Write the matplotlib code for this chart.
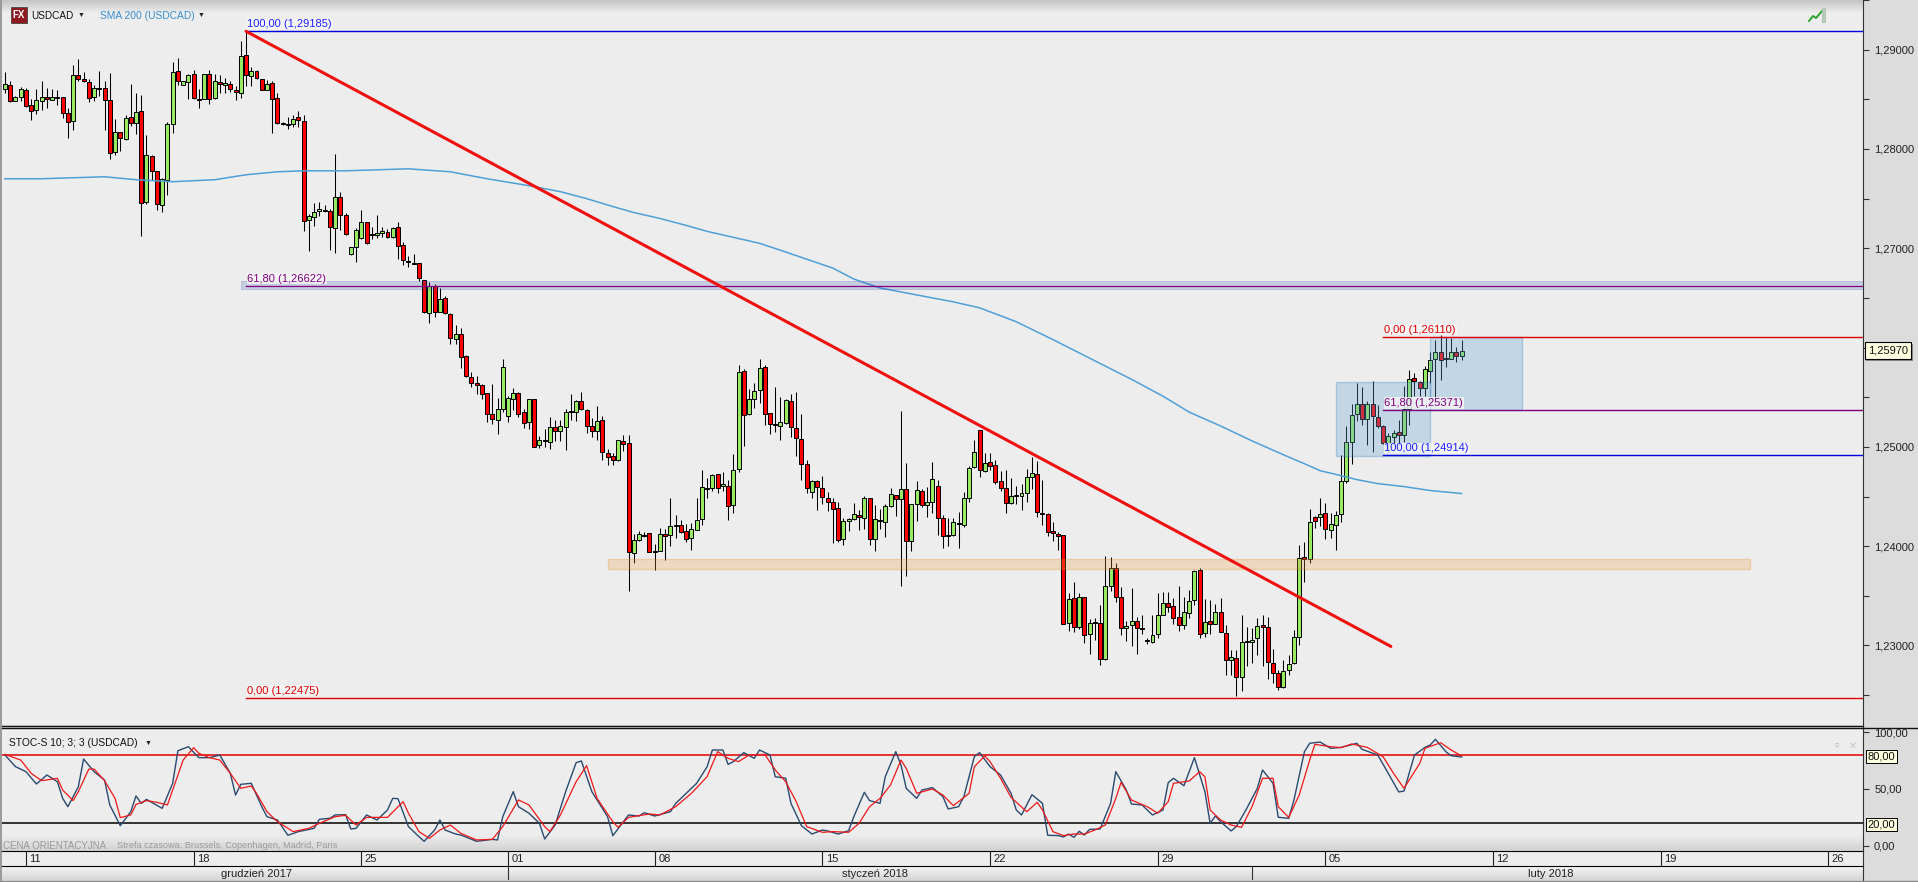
import numpy as np
import matplotlib
matplotlib.use("Agg")
import matplotlib.pyplot as plt
from matplotlib.patheffects import withSimplePatchShadow

plt.rcParams['font.family'] = ['Liberation Sans', 'DejaVu Sans']
plt.rcParams['font.size'] = 8

W, H = 1918, 882

# candles, in pips (price * 10000), 4h bars
highs = [
12877,12868,12853,12862,12861,12850,12860,12868,12861,12860,
12859,12852,12841,12885,12891,12877,12870,12864,12878,12868,
12876,12830,12817,12834,12865,12856,12854,12814,12794,12778,
12771,12827,12888,12892,12868,12875,12880,12860,12875,12880,
12875,12874,12871,12868,12863,12909,12918,12883,12880,12870,
12869,12868,12856,12827,12832,12834,12838,12834,12734,12746,
12747,12744,12740,12795,12757,12735,12701,12720,12739,12726,
12721,12733,12721,12719,12721,12726,12706,12692,12694,12685,
12668,12666,12664,12660,12652,12635,12623,12620,12592,12575,
12571,12563,12554,12563,12549,12588,12551,12559,12555,12538,
12548,12548,12511,12518,12530,12527,12527,12538,12553,12547,
12555,12538,12529,12541,12531,12498,12494,12507,12512,12512,
12412,12415,12414,12413,12402,12418,12417,12449,12431,12426,
12422,12423,12448,12477,12469,12473,12473,12475,12467,12493,
12582,12578,12558,12564,12588,12582,12534,12560,12550,12548,
12553,12555,12533,12487,12467,12467,12471,12455,12449,12444,
12428,12428,12443,12436,12451,12449,12441,12437,12442,12459,
12452,12536,12484,12442,12466,12458,12460,12485,12467,12431,
12428,12428,12434,12455,12481,12507,12517,12494,12494,12487,
12476,12477,12469,12461,12463,12478,12490,12486,12467,12433,
12424,12414,12411,12353,12364,12353,12349,12327,12328,12341,
12390,12389,12383,12359,12325,12358,12329,12331,12308,12331,
12353,12354,12354,12348,12360,12349,12356,12376,12378,12347,
12346,12342,12348,12321,12295,12295,12331,12319,12318,12328,
12331,12329,12296,12275,12285,12290,12316,12401,12404,12437,
12430,12449,12443,12433,12435,12492,12521,12543,12564,12560,
12546,12566,12542,12522,12514,12517,12527,12561,12577,12574,
12566,12581,12596,12608,12613,12611,12610,12601,12608]
body_tops = [
12865,12864,12852,12860,12859,12844,12849,12852,12852,12852,
12852,12852,12836,12874,12874,12870,12867,12861,12861,12861,
12849,12817,12817,12831,12832,12837,12838,12794,12793,12778,
12770,12825,12877,12878,12868,12874,12875,12850,12875,12875,
12868,12867,12866,12865,12859,12894,12895,12878,12879,12870,
12865,12866,12851,12826,12825,12830,12832,12828,12732,12737,
12740,12739,12738,12752,12752,12733,12701,12718,12726,12726,
12714,12715,12717,12716,12720,12721,12703,12687,12685,12685,
12668,12662,12662,12649,12650,12634,12614,12614,12591,12570,
12564,12562,12554,12533,12538,12580,12549,12554,12554,12535,
12548,12548,12507,12507,12520,12520,12521,12535,12536,12546,
12546,12537,12521,12526,12527,12494,12491,12507,12506,12504,
12406,12412,12411,12413,12395,12412,12412,12420,12421,12421,
12415,12417,12426,12460,12459,12472,12473,12463,12461,12477,
12575,12576,12548,12556,12579,12580,12534,12523,12525,12547,
12546,12519,12508,12483,12466,12466,12459,12449,12444,12438,
12425,12427,12432,12431,12448,12448,12427,12426,12440,12453,
12452,12458,12458,12442,12457,12456,12444,12468,12461,12428,
12411,12424,12423,12449,12479,12495,12517,12484,12485,12482,
12466,12459,12451,12452,12454,12470,12474,12473,12433,12432,
12415,12412,12411,12347,12348,12349,12349,12323,12324,12323,
12360,12378,12378,12349,12320,12325,12325,12318,12305,12311,
12331,12343,12343,12340,12329,12334,12345,12375,12376,12324,
12325,12334,12334,12313,12288,12287,12303,12304,12306,12320,
12321,12319,12282,12272,12274,12281,12309,12388,12389,12424,
12429,12432,12433,12422,12431,12466,12505,12532,12543,12543,
12543,12543,12530,12521,12511,12514,12515,12538,12568,12569,
12565,12578,12587,12596,12596,12589,12596,12596,12597]
body_bottoms = [
12860,12848,12848,12852,12843,12838,12839,12848,12850,12849,
12851,12836,12827,12828,12870,12868,12851,12852,12860,12849,
12796,12797,12811,12810,12826,12826,12746,12747,12778,12745,
12744,12769,12825,12868,12864,12867,12851,12849,12850,12850,
12851,12865,12864,12860,12857,12856,12874,12873,12871,12859,
12859,12850,12826,12825,12824,12825,12829,12727,12728,12731,
12738,12738,12721,12720,12733,12714,12694,12701,12710,12705,
12713,12713,12715,12711,12711,12702,12688,12686,12684,12670,
12636,12635,12636,12636,12635,12610,12609,12590,12571,12564,
12562,12553,12533,12528,12527,12538,12531,12548,12533,12524,
12525,12500,12502,12506,12505,12516,12516,12520,12535,12535,
12538,12521,12516,12516,12495,12490,12487,12487,12503,12394,
12393,12406,12410,12394,12394,12395,12410,12411,12420,12414,
12407,12408,12416,12427,12458,12459,12459,12461,12440,12441,
12478,12532,12533,12548,12557,12533,12523,12522,12521,12524,
12520,12509,12483,12459,12455,12460,12450,12444,12437,12406,
12407,12425,12427,12429,12428,12407,12407,12425,12424,12440,
12447,12447,12405,12405,12442,12441,12441,12444,12428,12410,
12410,12411,12422,12421,12449,12480,12477,12476,12481,12465,
12459,12443,12443,12451,12451,12454,12470,12434,12432,12414,
12413,12410,12322,12323,12319,12319,12311,12312,12323,12286,
12286,12360,12349,12318,12318,12321,12318,12317,12304,12303,
12312,12331,12339,12328,12321,12321,12333,12346,12312,12313,
12322,12322,12314,12285,12285,12268,12268,12303,12303,12308,
12319,12283,12272,12258,12258,12275,12282,12309,12387,12387,
12425,12429,12417,12416,12421,12432,12466,12505,12533,12528,
12528,12531,12521,12504,12504,12510,12512,12512,12538,12566,
12559,12559,12576,12588,12587,12588,12588,12591,12591]
lows = [
12856,12847,12848,12848,12842,12829,12835,12839,12841,12849,
12844,12831,12811,12819,12868,12867,12847,12848,12853,12819,
12790,12794,12798,12809,12823,12815,12712,12745,12769,12739,
12737,12754,12816,12864,12864,12850,12850,12841,12850,12845,
12850,12856,12856,12857,12849,12851,12863,12863,12870,12859,
12859,12816,12825,12824,12820,12822,12822,12717,12697,12722,
12732,12737,12698,12695,12718,12713,12693,12686,12709,12704,
12709,12710,12711,12710,12710,12689,12683,12681,12684,12667,
12635,12625,12631,12636,12634,12604,12604,12579,12570,12560,
12553,12548,12525,12523,12513,12535,12525,12537,12530,12519,
12518,12500,12499,12500,12498,12506,12506,12497,12527,12526,
12537,12514,12510,12507,12487,12482,12482,12486,12496,12355,
12383,12405,12409,12394,12376,12395,12386,12400,12408,12413,
12404,12396,12416,12421,12448,12456,12454,12456,12426,12433,
12475,12501,12532,12539,12544,12522,12513,12515,12507,12523,
12510,12491,12467,12454,12449,12436,12442,12435,12403,12404,
12401,12415,12426,12416,12417,12401,12395,12417,12409,12439,
12430,12360,12370,12395,12425,12439,12429,12433,12411,12398,
12400,12410,12398,12419,12444,12479,12470,12475,12477,12463,
12456,12433,12442,12442,12436,12444,12458,12429,12421,12410,
12405,12396,12322,12315,12314,12317,12302,12291,12306,12280,
12285,12355,12344,12311,12304,12299,12291,12312,12301,12302,
12308,12331,12334,12322,12315,12317,12328,12341,12308,12309,
12312,12322,12314,12270,12270,12249,12254,12279,12282,12290,
12279,12266,12262,12255,12257,12270,12281,12300,12364,12383,
12418,12420,12407,12408,12396,12424,12464,12483,12526,12522,
12502,12495,12519,12503,12494,12504,12502,12505,12522,12551,
12551,12551,12564,12549,12567,12580,12588,12585,12587]
directions = ("GRGGRRGGRG" "RRRGRRRGRR" "RGRGRGRGRR" "GGGRGGRRGR" "GRGRRGRGRR"
              "GRRRRGRRGG" "GRRGRRGGGR" "RGGRGRRRRR" "RGRGRRGRRR" "RRRRGGGGRR"
              "GRGRGRGGRG" "RRRGRRRGRR" "GGRRRGRGRR" "RGGGRGRGRG" "GRGGGRRRGG"
              "RRRRGRRRRR" "GGGRGRGRGG" "RGRGGRGGRR" "RGRGGGRGRR" "RRGRGGGRRR"
              "RRRGRGRGRR" "GGRRGGRRRG" "GGRRRGGGRG" "RGRRGRGRGG" "RRRRGGGGRG"
              "RGRGGGGGGR" "GRRRGGRGGR" "RGGGRRGRG")

# SMA 200 read at some bars
sma_idx = [0,7,19,25,32,40,46,52,57,65,77,85,92,100,106,111,116,120,125,130,134,139,144,148,153,
           158,162,167,172,176,181,186,193,200,209,215,221,226,232,238,244,248,251,255,258,262,267,272,278]
sma_pips = [12770,12770,12772,12769,12767,12769,12774,12777,12778,12778,12780,12777,12770,
            12763,12757,12750,12742,12736,12730,12723,12717,12711,12705,12698,12689,
            12680,12669,12660,12655,12651,12646,12640,12626,12608,12584,12568,12551,12535,12521,
            12506,12492,12483,12476,12471,12467,12463,12460,12456,12453]

# stochastic %K and %D read at turning points
k_idx = [0,2,4,6,8,10,11,12,14,15,17,19,20,22,24,25,26,27,30,32,33,35,37,39,41,43,44,45,47,49,
         50,52,54,56,59,60,62,63,65,66,67,69,71,73,74,75,77,79,80,82,83,84,86,87,90,93,94,95,97,98,
         100,102,103,105,107,109,110,112,115,116,119,121,122,124,127,128,129,132,134,135,137,138,139,141,143,144,146,147,149,150,
         152,154,156,157,159,161,162,164,165,167,168,170,171,172,174,175,177,179,180,182,183,185,186,188,190,192,193,194,196,198,
         199,201,202,203,204,205,206,207,209,211,212,214,215,217,219,221,222,223,225,227,229,230,231,232,234,235,237,239,240,242,
         243,245,246,248,249,251,253,255,258,259,262,264,266,267,269,271,272,273,275,276,278]
k_vals = [79.8,69.6,65.2,54.4,62.3,56.4,41.8,34.5,52.0,76.3,65.2,57.9,36.0,17.8,30.1,43.9,37.4,40.9,33.0,55.0,83.6,87.1,77.5,77.5,79.8,63.7,44.7,54.1,55.0,34.5,
          25.7,22.8,9.4,12.6,15.5,23.4,24.3,27.2,27.5,14.9,15.5,27.2,22.8,31.6,41.8,41.5,17.0,8.2,4.1,14.0,22.8,14.0,10.5,9.6,4.1,5.8,5.3,25.7,47.7,34.5,
          28.7,19.9,6.1,18.4,47.7,73.1,74.6,47.7,25.7,9.0,27.2,26.3,29.2,26.3,30.1,37.4,41.8,55.0,69.6,84.2,84.2,71.6,74.0,81.9,76.9,84.2,79.8,60.8,59.4,37.4,
          17.8,10.5,14.0,13.2,10.5,13.4,25.7,47.1,39.8,37.4,60.8,82.8,71.1,50.6,41.8,49.1,51.2,43.3,32.5,34.5,43.3,78.4,81.9,69.6,62.3,46.2,31.6,27.2,45.0,37.4,
          9.4,9.1,7.9,10.5,7.6,12.9,9.6,14.6,14.9,37.4,65.2,49.1,36.8,36.0,27.2,31.6,55.6,59.4,52.9,77.5,47.7,19.9,26.3,21.3,13.2,17.0,33.0,50.6,66.7,55.0,
          25.2,24.3,40.4,82.8,90.1,91.2,85.7,86.5,90.1,84.8,79.8,63.7,47.4,48.2,79.8,86.5,88.6,93.6,82.7,79.2,78.1]
d_idx = [0,3,5,7,10,11,13,14,16,17,19,21,22,24,25,27,29,31,32,34,36,37,39,41,43,45,47,48,50,52,
         55,58,60,63,65,67,69,73,76,77,79,81,83,85,87,90,93,95,98,100,103,104,106,109,111,113,116,117,119,123,
         125,128,131,134,136,138,140,142,145,147,149,151,153,156,158,161,163,165,167,169,171,172,174,177,179,181,184,185,187,188,
         190,192,195,197,198,200,202,204,206,208,210,212,213,215,218,220,222,223,226,228,229,230,232,234,236,238,240,242,243,245,
         247,249,250,253,255,257,260,263,265,267,270,271,274,276,278]
d_vals = [80.4,75.4,63.7,57.3,59.4,49.1,39.8,47.7,67.5,67.5,57.3,41.8,24.9,27.2,36.5,39.8,38.3,36.0,49.1,75.4,86.3,81.3,77.5,75.4,63.7,50.6,52.6,46.2,30.1,21.3,
          12.6,15.5,19.9,25.7,26.9,18.4,25.1,25.1,38.9,28.7,12.6,6.7,14.0,18.4,11.1,5.3,5.8,17.0,40.4,36.0,17.0,12.6,27.2,56.4,70.5,41.8,21.3,16.4,25.1,28.1,
          27.2,34.5,46.2,60.8,82.8,76.9,74.0,79.8,80.4,66.7,56.4,38.9,17.0,12.0,12.6,12.0,19.9,34.5,41.8,53.5,75.4,68.1,46.2,50.0,44.7,35.4,46.2,69.6,79.0,74.0,
          59.4,42.7,30.1,38.3,31.6,12.6,9.1,10.5,10.5,14.0,18.4,41.8,55.8,40.3,34.5,28.7,38.9,55.0,57.0,65.2,60.8,31.6,22.8,18.4,16.4,34.5,59.4,59.4,34.5,25.1,
          44.7,75.4,89.2,87.1,86.3,89.5,86.5,78.4,63.7,50.6,72.5,85.7,90.6,84.2,79.0]

# date axis
week_idx = [4,36,68,96,124,156,188,220,252,284,316,348]
week_labels = ["11","18","25","01","08","15","22","29","05","12","19","26"]
month_breaks = [96,238]
month_labels = ["grudzień 2017","styczeń 2018","luty 2018"]
month_centers = [48,166,295]

# 1,26000 sits under the last price box, so no label for it
price_ticks = [1.23,1.24,1.25,1.26,1.27,1.28,1.29]
price_labels = ["1,23000","1,24000","1,25000","","1,27000","1,28000","1,29000"]
price_minor = [1.225,1.235,1.245,1.255,1.265,1.275,1.285,1.295]
stoch_ticks = [0,50,100]

last_price = 1.2597
trend_x = [46,264.5]
trend_y = [1.29185,1.2299]

highs, lows = np.array(highs)/1e4, np.array(lows)/1e4
body_tops, body_bottoms = np.array(body_tops)/1e4, np.array(body_bottoms)/1e4
idx = np.arange(len(highs))
is_up = np.array([c == "G" for c in directions])

BG = "#ededed"
X_MIN, X_MAX = -0.954, 354.6

fig = plt.figure(figsize=(W/100, H/100), dpi=100, facecolor="#dcdcdc")


def make_ax(y_top, y_bot):
    return fig.add_axes([0, 1-y_bot/H, 1863/W, (y_bot-y_top)/H], facecolor=BG)


def gradient(ax, y0, y1, c_from, c_to):
    # vertical shading, used for the panel edges
    c0 = np.array(matplotlib.colors.to_rgb(c_from))
    c1 = np.array(matplotlib.colors.to_rgb(c_to))
    g = np.linspace(0, 1, 32)[:, None, None]
    ax.imshow(c0 + (c1-c0)*g, extent=[X_MIN, X_MAX, y0, y1], origin="lower",
              aspect="auto", zorder=0, interpolation="bilinear")


# main panel
ax = make_ax(0, 725)
gradient(ax, 1.2937, 1.2950, BG, "#c4c4c4")
ax.set_xlim(X_MIN, X_MAX)
ax.set_ylim(1.22199, 1.2950)

ax.vlines(idx, lows, highs, color="black", lw=0.75, zorder=2)
ax.bar(idx[is_up], (body_tops-body_bottoms)[is_up], bottom=body_bottoms[is_up], width=0.76,
       color="#96ea64", edgecolor="black", lw=0.7, zorder=3)
ax.bar(idx[~is_up], (body_tops-body_bottoms)[~is_up], bottom=body_bottoms[~is_up], width=0.76,
       color="#ff0000", edgecolor="black", lw=0.7, zorder=3)

ax.plot(sma_idx, np.array(sma_pips)/1e4, color="#4f9fd8", lw=1.1, zorder=4)

# zones
ax.axhspan(1.2659, 1.2667, xmin=(45-X_MIN)/(X_MAX-X_MIN), facecolor="#3050b0", alpha=0.2,
           edgecolor="#3050b0", lw=0.7, zorder=5)
ax.fill_between([115,333], 1.2377, 1.2387, facecolor="#f0a040", alpha=0.25,
                edgecolor="#e08010", lw=1, zorder=5)
ax.fill_between([254,272], 1.2491, 1.2565, facecolor="#61a3d5", alpha=0.3,
                edgecolor="#2f7fc0", lw=1, zorder=5)
ax.fill_between([272,289.5], 1.2537, 1.2611, facecolor="#61a3d5", alpha=0.3,
                edgecolor="#2f7fc0", lw=1, zorder=5)

# fibo lines and trend
ax.plot([46,X_MAX],[1.29185,1.29185], color="#0000e0", lw=1.0, zorder=6)
ax.plot([46,X_MAX],[1.26622,1.26622], color="#800080", lw=0.9, zorder=6)
ax.plot([46,X_MAX],[1.22475,1.22475], color="#e00000", lw=1.0, zorder=6)
ax.plot([263,X_MAX],[1.2611,1.2611], color="#e00000", lw=1.0, zorder=6)
ax.plot([263,X_MAX],[1.25371,1.25371], color="#800080", lw=1.0, zorder=6)
ax.plot([263,X_MAX],[1.24914,1.24914], color="#0000e0", lw=1.0, zorder=6)
ax.plot(trend_x, trend_y, color="#f01010", lw=2.2, zorder=7, solid_capstyle="round")

fib_labels = [(46,1.29185,"100,00 (1,29185)","#2020ff"),
              (46,1.26622,"61,80 (1,26622)","#800080"),
              (46,1.22475,"0,00 (1,22475)","#e00000"),
              (263,1.2611,"0,00 (1,26110)","#e00000"),
              (263,1.25371,"61,80 (1,25371)","#800080"),
              (263,1.24914,"100,00 (1,24914)","#2020ff")]
for fx, fy, txt, col in fib_labels:
    ax.annotate(txt, (fx, fy), xytext=(1, 1.5), textcoords="offset points", color=col,
                fontsize=8, va="bottom", ha="left", zorder=8,
                bbox=dict(facecolor="#f6f6f6", edgecolor="none", pad=0.5, alpha=0.8))

ax.set_xticks([])
ax.yaxis.tick_right()
ax.set_yticks(price_ticks)
ax.set_yticklabels(price_labels, fontsize=8, color="#222222")
ax.set_yticks(price_minor, minor=True)
ax.tick_params(axis="y", which="major", length=4, width=0.8, pad=4, color="#333333")
ax.tick_params(axis="y", which="minor", length=4, width=0.8, color="#333333")
for s in ["top", "left", "bottom"]:
    ax.spines[s].set_visible(False)
ax.spines["right"].set_color("#333333")
# last price box with a small shadow
price_box = ax.annotate("1,25970", (1, last_price), xycoords=("axes fraction", "data"), xytext=(3.5, 0),
                        textcoords="offset points", fontsize=8, va="center", ha="left", color="#111111",
                        annotation_clip=False, zorder=10,
                        bbox=dict(boxstyle="square,pad=0.3", facecolor="#fdfde0", edgecolor="black", lw=0.8))
price_box.get_bbox_patch().set_path_effects([withSimplePatchShadow(offset=(1.2, -1.2), shadow_rgbFace="#777777", alpha=0.8)])

# stochastic panel
ax2 = make_ax(727, 851)
gradient(ax2, -4.4, 9, "#d2d2d2", BG)
ax2.set_xlim(X_MIN, X_MAX)
ax2.set_ylim(-4.4, 104.4)
ax2.axhline(80, color="#e00000", lw=1.1, zorder=3)
ax2.axhline(20, color="black", lw=1.1, zorder=3)
ax2.plot(k_idx, k_vals, color="#2b4a70", lw=1.0, zorder=4)
ax2.plot(d_idx, d_vals, color="#f01818", lw=0.9, zorder=5)
ax2.set_xticks([])
ax2.yaxis.tick_right()
ax2.set_yticks(stoch_ticks)
ax2.set_yticklabels([f"{v:.2f}".replace(".", ",") for v in stoch_ticks], fontsize=8, color="#222222")
ax2.tick_params(axis="y", length=4, width=0.8, pad=4, color="#333333")
for s in ["top", "left", "bottom"]:
    ax2.spines[s].set_visible(False)
ax2.spines["right"].set_color("#333333")
for lvl, txt in [(80, "80,00"), (20, "20,00")]:
    ax2.annotate(txt, (1, lvl), xycoords=("axes fraction", "data"), xytext=(3.5, -1),
                 textcoords="offset points", fontsize=8, va="center", ha="left", color="#111111",
                 annotation_clip=False, zorder=10,
                 bbox=dict(boxstyle="square,pad=0.15", facecolor="#fdfde0", edgecolor="black", lw=0.7))

# date rows
ax3 = make_ax(851, 866)
ax3.set_xlim(X_MIN, X_MAX)
ax3.set_ylim(0, 1)
for t, lab in zip(week_idx, week_labels):
    ax3.axvline(t, color="#222222", lw=0.8)
    ax3.annotate(lab, (t, 0.46), xytext=(2.5, 0), textcoords="offset points", fontsize=8,
                 va="center", color="#222222")

ax4 = make_ax(866, 880)
gradient(ax4, 0, 1, "#d6d6d6", "#f4f4f4")
ax4.set_xlim(X_MIN, X_MAX)
ax4.set_ylim(0, 1)
for t in month_breaks:
    ax4.axvline(t, color="#333333", lw=0.8)
for t, lab in zip(month_centers, month_labels):
    ax4.text(t, 0.46, lab, fontsize=8, ha="center", va="center", color="#222222")

for a in [ax3, ax4]:
    a.set_xticks([])
    a.set_yticks([])
    for s in a.spines.values():
        s.set_visible(False)
    a.spines["top"].set_visible(True)
    a.spines["top"].set_color("black")
    a.spines["right"].set_visible(True)
    a.spines["right"].set_color("#333333")


def px_text(x, y, s, **kw):
    fig.text(x/W, 1-y/H, s, va="center", **kw)


def px_line(xs, ys, **kw):
    fig.add_artist(plt.Line2D(np.array(xs)/W, 1-np.array(ys)/H, **kw))


# double rule between the panels
px_line([0, 1863], [725.5, 725.5], color="#111111", lw=1)
px_line([0, 1918], [727.5, 727.5], color="#111111", lw=1)
px_line([0, 1918], [880.5, 880.5], color="#8a8a8a", lw=1)
px_line([0.5, 0.5], [0, 880], color="#9a9a9a", lw=1.4)

# chart header
fig.add_artist(plt.Rectangle((11/W, 1-23/H), 16/W, 16/H, facecolor="#8e1a20", edgecolor="#444444",
                             lw=0.6, transform=fig.transFigure))
px_text(12.5, 15.5, "FX", fontsize=7, color="white", fontweight="bold")
px_text(31, 16, "USDCAD", fontsize=7.2, color="#111111")
px_text(78, 15, "▼", fontsize=5, color="#222222")
px_text(100, 16, "SMA 200 (USDCAD)", fontsize=7.4, color="#3a8fd0")
px_text(198, 15, "▼", fontsize=5, color="#222222")
px_text(9, 743, "STOC-S 10; 3; 3 (USDCAD)", fontsize=7.4, color="#111111")
px_text(145, 743, "▼", fontsize=5, color="#222222")
px_text(3, 846, "CENA ORIENTACYJNA", fontsize=7, color="#9a9a9a")
px_text(117, 846, "Strefa czasowa: Brussels, Copenhagen, Madrid, Paris", fontsize=6.6, color="#9a9a9a")
px_text(1834, 746, "▫", fontsize=9, color="#b5b5b5")
px_text(1849, 746, "✕", fontsize=7, color="#c8c8c8")
# small status icon, top right
px_line([1809, 1813, 1816, 1822], [21, 16, 18, 11], color="#2fa52f", lw=1.4)
px_line([1824, 1824], [10, 21], color="#b8c8b8", lw=3)

fig.savefig("out.png", dpi=100, facecolor=fig.get_facecolor())
